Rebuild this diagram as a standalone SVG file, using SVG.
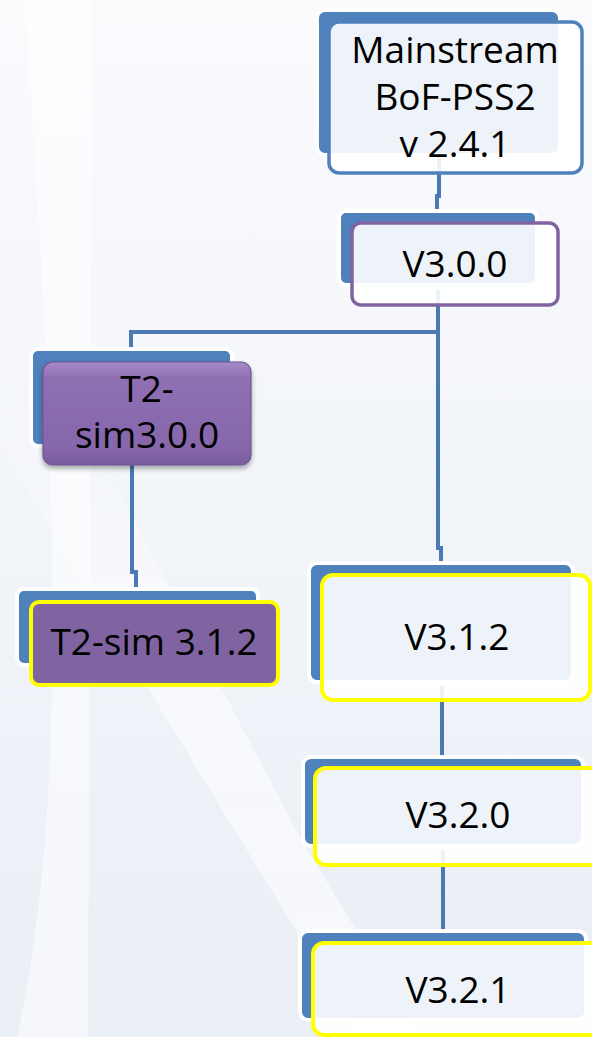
<svg xmlns="http://www.w3.org/2000/svg" width="592" height="1037" viewBox="0 0 592 1037">
  <defs>
    <linearGradient id="bg" x1="0" y1="0" x2="0" y2="1">
      <stop offset="0" stop-color="#fafbfd"/>
      <stop offset="1" stop-color="#eaeef5"/>
    </linearGradient>
    <linearGradient id="fade" x1="0" y1="0" x2="0" y2="1">
      <stop offset="0" stop-color="#ffffff" stop-opacity="0"/>
      <stop offset="0.35" stop-color="#ffffff" stop-opacity="0.8"/>
      <stop offset="1" stop-color="#ffffff" stop-opacity="1"/>
    </linearGradient>
    <linearGradient id="purp" x1="0" y1="0" x2="0" y2="1">
      <stop offset="0" stop-color="#a88bcb"/>
      <stop offset="0.15" stop-color="#8f70b3"/>
      <stop offset="0.85" stop-color="#8666ab"/>
      <stop offset="1" stop-color="#7a5c9e"/>
    </linearGradient>
    <filter id="shadow" x="-10%" y="-10%" width="120%" height="130%">
      <feDropShadow dx="0" dy="3" stdDeviation="2.5" flood-color="#000" flood-opacity="0.35"/>
    </filter>
  </defs>
  <style>
    .back { fill: #4f81bd; stroke: #ffffff; stroke-width: 4; }
    .front { fill: #ffffff; fill-opacity: 0.9; stroke-width: 3.5; }
    .blue { stroke: #4f81bd; }
    .violet { stroke: #8064a2; }
    .yellow { stroke: #ffff00; stroke-width: 4; }
    .conn { fill: none; stroke: #4a79b3; stroke-width: 4; }
    text { font-family: "Open Sans", "Liberation Sans", sans-serif; font-size: 37px; fill: #000000; text-anchor: middle; }
  </style>

  <!-- background -->
  <rect x="0" y="0" width="592" height="1037" fill="url(#bg)"/>
  <path d="M24,0 H92 L88,1037 H17 C55,860 70,620 24,0 Z" fill="#ffffff" opacity="0.5"/>
  <path d="M-40,380 L62,380 L217,680 L300,837 L420,1037 L360,1037 L300,937 L143,680 Z" fill="url(#fade)" opacity="0.6"/>

  <!-- connectors -->
  <g id="connectors">
    <path class="conn" d="M439,156 V196 H437 V212"/>
    <path class="conn" d="M438,290 V332 H131 V350"/>
    <path class="conn" d="M438,332 V548 H441 V563"/>
    <path class="conn" d="M132,465 V572 H136 V590"/>
    <path class="conn" d="M442,686 V757"/>
    <path class="conn" d="M443,850 V931"/>
  </g>

  <g id="mainstream">
    <rect class="back" x="317" y="10" width="243" height="145" rx="8"/>
    <rect class="front blue" x="329" y="22" width="253" height="151" rx="10"/>
    <text x="455" y="63">Mainstream</text>
    <text x="455" y="110">BoF-PSS2</text>
    <text x="455" y="157">v 2.4.1</text>
  </g>

  <g id="v300">
    <rect class="back" x="339" y="211" width="198" height="74" rx="7"/>
    <rect class="front violet" x="352" y="223" width="206" height="82" rx="9"/>
    <text x="455" y="277">V3.0.0</text>
  </g>

  <g id="t2sim300">
    <rect class="back" x="31" y="349" width="201" height="97" rx="7"/>
    <rect x="43" y="362" width="208" height="103" rx="10" fill="url(#purp)" stroke="#6f5690" stroke-width="1.2" filter="url(#shadow)"/>
    <text x="147" y="402">T2-</text>
    <text x="147" y="448">sim3.0.0</text>
  </g>

  <g id="t2sim312">
    <rect class="back" x="17" y="589" width="241" height="76" rx="7"/>
    <rect class="yellow" x="31" y="602" width="247" height="83" rx="8" fill="#8064a2"/>
    <text x="154" y="655">T2-sim 3.1.2</text>
  </g>

  <g id="v312">
    <rect class="back" x="309" y="563" width="264" height="119" rx="8"/>
    <rect class="front yellow" x="322" y="575" width="268" height="125" rx="11"/>
    <text x="457" y="650">V3.1.2</text>
  </g>

  <g id="v320">
    <rect class="back" x="303" y="757" width="280" height="89" rx="8"/>
    <rect class="front yellow" x="315" y="768" width="292" height="97" rx="11"/>
    <text x="458" y="828">V3.2.0</text>
  </g>

  <g id="v321">
    <rect class="back" x="300" y="931" width="286" height="89" rx="8"/>
    <rect class="front yellow" x="313" y="943" width="294" height="92" rx="11"/>
    <text x="458" y="1003">V3.2.1</text>
  </g>
</svg>
